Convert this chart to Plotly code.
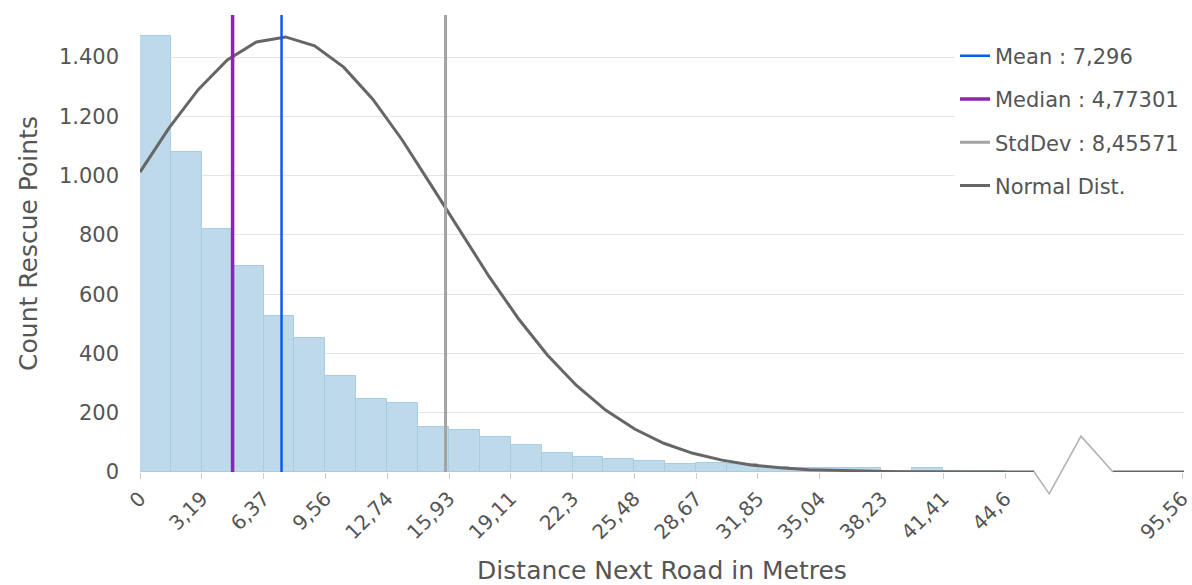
import plotly.graph_objects as go

# ---- data -------------------------------------------------------------
bin_width = 1.5927          # histogram bin width in metres
bin_counts = [1471, 1080, 819, 696, 527, 451, 324, 248, 232, 152,
              142, 118, 92, 65, 51, 43, 36, 26, 29, 26,
              17, 15, 13, 12, 4, 12, 3, 2]

# fitted normal curve (vertices)
curve_x = [0.0, 1.5, 3.0, 4.5, 6.0, 7.5, 9.0, 10.5, 12.0, 13.5,
           15.0, 16.5, 18.0, 19.5, 21.0, 22.5, 24.0, 25.5, 27.0, 28.5,
           30.0, 31.5, 33.0, 34.5, 36.0, 37.5, 39.0, 40.5, 42.0, 43.5,
           45.0, 46.1]
curve_y = [1012, 1161, 1290, 1390, 1451, 1468, 1438, 1366, 1258, 1122,
           969, 812, 659, 518, 395, 292, 209, 145, 97, 63,
           40, 24, 14, 8, 5, 3, 1, 1, 0, 0,
           0, 0]
# curve continues flat after the axis break
curve_tail_x = [92.0, 95.66]
curve_tail_y = [0, 0]

mean_val = 7.296
median_val = 4.77301
std_val = 8.45571

tick_values = [0, 3.19, 6.37, 9.56, 12.74, 15.93, 19.11, 22.3, 25.48,
               28.67, 31.85, 35.04, 38.23, 41.41, 44.6, 95.56]

# ---- broken x axis ----------------------------------------------------
break_lo = 46.1      # last value drawn before the break
break_hi = 92.0      # first value drawn after the break
break_width = 4.06   # axis units used by the zig-zag marker
axis_end = 95.66
shift = break_hi - break_lo - break_width


def to_axis(v):
    if v is None:
        return None
    return v if v <= break_lo else v - shift


x_max = to_axis(axis_end)
y_max = 1542

fmt = lambda v: str(v).replace(".", ",")

bar_centers = [(i + 0.5) * bin_width for i in range(len(bin_counts))]

fig = go.Figure()

fig.add_trace(go.Bar(
    x=[to_axis(c) for c in bar_centers], y=bin_counts, width=bin_width,
    marker=dict(color="#bdd9ea", line=dict(color="#a6cde3", width=1)),
    showlegend=False, hoverinfo="skip",
))

cx = [to_axis(v) for v in curve_x] + [None] + [to_axis(v) for v in curve_tail_x]
cy = list(curve_y) + [None] + list(curve_tail_y)
fig.add_trace(go.Scatter(
    x=cx, y=cy, mode="lines", name="Normal Dist.",
    line=dict(color="#666666", width=3), legendrank=4, legendgroup="n",
))

for name, val, color, width, rank in [
    ("Mean : " + fmt(mean_val), mean_val, "#0a5cf0", 2.5, 1),
    ("Median : " + fmt(median_val), median_val, "#8c22b8", 3.5, 2),
    ("StdDev : " + fmt(std_val), mean_val + std_val, "#a3a3a3", 3, 3),
]:
    fig.add_trace(go.Scatter(
        x=[to_axis(val), to_axis(val)], y=[0, y_max], mode="lines",
        name=name, line=dict(color=color, width=width),
        legendrank=rank, legendgroup=name,
    ))

# zig-zag marker for the axis break (paper coordinates so it is not clipped)
def px(v_axis):
    return v_axis / x_max

def py(count):
    return count / y_max

zz = [(break_lo, 0), (break_lo + 0.77, -74), (break_lo + 2.41, 121),
      (break_lo + break_width, 0)]
path = "M " + " L ".join(f"{px(a)},{py(b)}" for a, b in zz)
fig.add_shape(type="path", path=path, xref="paper", yref="paper",
              line=dict(color="#b0b0b0", width=1.5), layer="above")

font_family = "DejaVu Sans, Verdana, sans-serif"
fig.update_layout(
    width=1192, height=585,
    margin=dict(l=140, r=8, t=15, b=113, autoexpand=False),
    paper_bgcolor="white", plot_bgcolor="white",
    separators=",.",
    bargap=0,
    font=dict(family=font_family, color="#555555", size=21),
    showlegend=True,
    legend=dict(
        x=1.0, y=0.955, xanchor="right", yanchor="top",
        bgcolor="white", borderwidth=0,
        font=dict(size=21, color="#555555"),
        tracegroupgap=13, traceorder="grouped",
    ),
    xaxis=dict(
        range=[0, x_max],
        automargin=False,
        tickmode="array",
        tickvals=[to_axis(v) for v in tick_values],
        ticktext=[fmt(v) for v in tick_values],
        tickangle=-45,
        ticks="outside", ticklen=6, tickcolor="#cccccc",
        ticklabeloverflow="allow",
        showgrid=False, zeroline=False, showline=False,
        tickfont=dict(size=20, color="#555555"),
        title=dict(text="Distance Next Road in Metres",
                   font=dict(size=25, color="#555555"), standoff=18),
    ),
    yaxis=dict(
        range=[0, y_max],
        automargin=False,
        tickvals=[0, 200, 400, 600, 800, 1000, 1200, 1400],
        tickformat=",d",
        showgrid=True, gridcolor="#e6e6e6", gridwidth=1,
        zeroline=False, showline=False,
        ticklabelstandoff=20,
        tickfont=dict(size=21, color="#555555"),
        title=dict(text="Count Rescue Points",
                   font=dict(size=25, color="#555555"), standoff=14),
    ),
)

fig.write_html("out.html")
